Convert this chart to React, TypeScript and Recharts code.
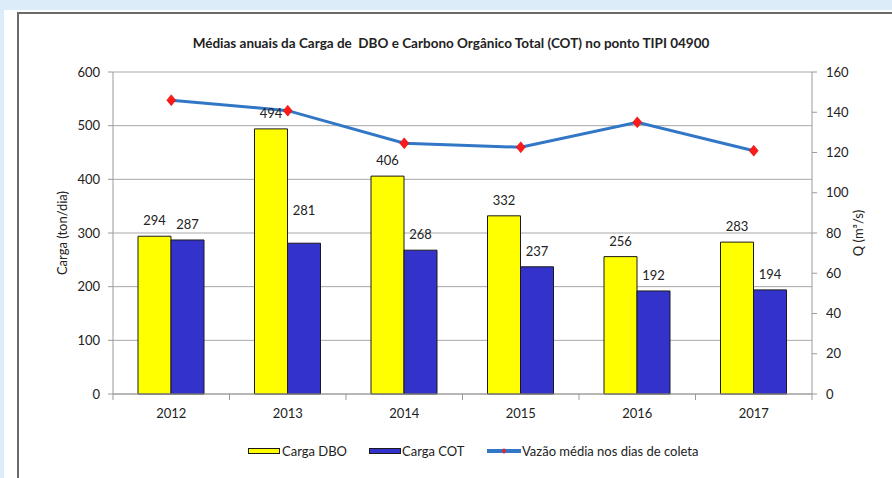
import React from 'react';
import { ComposedChart, Bar, Line, XAxis, YAxis, CartesianGrid, LabelList } from 'recharts';

const years = ['2012', '2013', '2014', '2015', '2016', '2017'];
const cargaDBO = [294, 494, 406, 332, 256, 283];
const cargaCOT = [287, 281, 268, 237, 192, 194];
const vazao = [146, 140.8, 124.6, 122.6, 135, 120.9];
const leftTicks = [0, 100, 200, 300, 400, 500, 600];
const rightTicks = [0, 20, 40, 60, 80, 100, 120, 140, 160];

const data = years.map((y, i) => ({ year: y, dbo: cargaDBO[i], cot: cargaCOT[i], q: vazao[i] }));

const FONT = 'Lato, "Open Sans", sans-serif';
const TXT = '#222';
const AXIS = '#9a9a9a';
// extra lift for one COT label that sits higher in the original
const cotLift = [0, 17, 0, 0, 0, 0];

const XTick = (props: any) => {
  const { x, y, payload, index, visibleTicksCount } = props;
  const off = payload && payload.offset != null ? payload.offset : 58.25;
  const ay = y - 15;
  const last = visibleTicksCount ? index === visibleTicksCount - 1 : index === years.length - 1;
  return (
    <g>
      <line x1={x - off} x2={x - off} y1={ay} y2={ay + 6} stroke={AXIS} />
      {last && <line x1={x + off} x2={x + off} y1={ay} y2={ay + 6} stroke={AXIS} />}
      <text x={x} y={y} dy="0.71em" textAnchor="middle" fill={TXT} fontSize={13} fontFamily={FONT}>
        {payload.value}
      </text>
    </g>
  );
};

const makeLabel = (lift: number[] | null) => (props: any) => {
  const { x, y, width, value, index } = props;
  const extra = lift ? lift[index] || 0 : 0;
  return (
    <text x={x + width / 2} y={y - 11 - extra} textAnchor="middle" fill={TXT} fontSize={13} fontFamily={FONT}>
      {value}
    </text>
  );
};

const Diamond = (props: any) => {
  const { cx, cy } = props;
  if (cx == null || cy == null) return null;
  return (
    <polygon
      points={`${cx},${cy - 5.5} ${cx + 4.5},${cy} ${cx},${cy + 5.5} ${cx - 4.5},${cy}`}
      fill="#ff1a1a"
      stroke="#d40000"
      strokeWidth={0.5}
    />
  );
};

export default function App() {
  return (
    <div style={{ position: 'fixed', left: 0, top: 0, width: 892, height: 478, background: '#dcedf9', overflow: 'hidden' }}>
      <div style={{ position: 'absolute', left: 4, top: 10, width: 900, height: 480, background: '#fff' }} />
      <div
        style={{
          position: 'absolute',
          left: 17,
          top: 12,
          width: 900,
          height: 500,
          borderLeft: '2px solid #6a6a6a',
          borderTop: '2px solid #6a6a6a',
        }}
      />
      <div
        style={{
          position: 'absolute',
          left: 0,
          width: 902,
          top: 35,
          textAlign: 'center',
          fontFamily: FONT,
          fontWeight: 700,
          fontSize: 13.5,
          color: TXT,
          whiteSpace: 'pre',
        }}
      >
        {'Médias anuais da Carga de  DBO e Carbono Orgânico Total (COT) no ponto TIPI 04900'}
      </div>
      <div style={{ position: 'absolute', left: 0, top: 0 }}>
        <ComposedChart
          width={892}
          height={478}
          data={data}
          margin={{ top: 72, right: 0, bottom: 54, left: 18 }}
          barGap={0}
        >
          <CartesianGrid yAxisId="left" vertical={false} stroke="#a8a8a8" />
          <XAxis
            dataKey="year"
            height={30}
            tickSize={0}
            tickLine={false}
            tickMargin={15}
            tick={<XTick />}
            axisLine={{ stroke: AXIS }}
            interval={0}
          />
          <YAxis
            yAxisId="left"
            width={95}
            domain={[0, 600]}
            ticks={leftTicks}
            interval={0}
            tickSize={5}
            tickMargin={8}
            tickLine={{ stroke: AXIS }}
            axisLine={{ stroke: AXIS }}
            tick={{ fill: TXT, fontSize: 13, fontFamily: FONT }}
            label={{
              value: 'Carga (ton/dia)',
              angle: -90,
              position: 'insideLeft',
              offset: 44,
              style: { fill: TXT, fontSize: 13, fontFamily: FONT, textAnchor: 'middle' },
            }}
          />
          <YAxis
            yAxisId="right"
            orientation="right"
            width={80}
            domain={[0, 160]}
            ticks={rightTicks}
            interval={0}
            tickSize={5}
            tickMargin={9}
            tickLine={{ stroke: AXIS }}
            axisLine={{ stroke: AXIS }}
            tick={{ fill: TXT, fontSize: 13, fontFamily: FONT }}
            label={{
              value: 'Q (m³/s)',
              angle: -90,
              position: 'insideRight',
              offset: 34,
              style: { fill: TXT, fontSize: 13, fontFamily: FONT, textAnchor: 'middle' },
            }}
          />
          <Bar yAxisId="left" dataKey="dbo" fill="#ffff00" stroke="#1a1a1a" strokeWidth={1} barSize={33} isAnimationActive={false}>
            <LabelList dataKey="dbo" content={makeLabel(null)} />
          </Bar>
          <Bar yAxisId="left" dataKey="cot" fill="#3333cc" stroke="#1a1a1a" strokeWidth={1} barSize={33} isAnimationActive={false}>
            <LabelList dataKey="cot" content={makeLabel(cotLift)} />
          </Bar>
          <Line
            yAxisId="right"
            dataKey="q"
            stroke="#3277c6"
            strokeWidth={3}
            dot={<Diamond />}
            activeDot={false}
            isAnimationActive={false}
          />
        </ComposedChart>
      </div>
      <div
        style={{
          position: 'absolute',
          top: 442,
          left: 0,
          height: 18,
          fontFamily: FONT,
          fontSize: 13,
          color: TXT,
          whiteSpace: 'nowrap',
        }}
      >
        <div style={{ position: 'absolute', left: 248, top: 6, width: 30, height: 4, background: '#ffff00', border: '1px solid #1a1a1a' }} />
        <div style={{ position: 'absolute', left: 282, top: 0, lineHeight: '18px' }}>Carga DBO</div>
        <div style={{ position: 'absolute', left: 369, top: 6, width: 30, height: 4, background: '#3333cc', border: '1px solid #1a1a1a' }} />
        <div style={{ position: 'absolute', left: 402, top: 0, lineHeight: '18px' }}>Carga COT</div>
        <svg style={{ position: 'absolute', left: 486, top: 3 }} width={36} height={12}>
          <line x1={1} x2={35} y1={6} y2={6} stroke="#3277c6" strokeWidth={4} />
          <polygon points="18,3 20,6 18,9 16,6" fill="#ff1a1a" />
        </svg>
        <div style={{ position: 'absolute', left: 522, top: 0, lineHeight: '18px' }}>Vazão média nos dias de coleta</div>
      </div>
    </div>
  );
}
